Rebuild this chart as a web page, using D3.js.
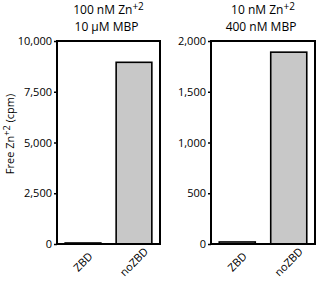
<!DOCTYPE html>
<html><head><meta charset="utf-8">
<script src="https://cdn.jsdelivr.net/npm/d3@7"></script>
<style>body{margin:0;background:#fff}svg{display:block}text{font-family:"Open Sans",sans-serif;fill:#000}</style>
</head><body>
<svg id="c" width="322" height="282"></svg>
<script>
const categories = ["ZBD", "noZBD"];
const leftValues = [50, 8950];
const rightValues = [20, 1890];
const leftTicks = [0, 2500, 5000, 7500, 10000];
const rightTicks = [0, 500, 1000, 1500, 2000];
const leftTitle = ["100 nM Zn", "+2", "10 μM MBP"];
const rightTitle = ["10 nM Zn", "+2", "400 nM MBP"];
const yLabel = ["Free Zn", "+2", " (cpm)"];

const svg = d3.select("#c");
const plotTop = 41, plotBottom = 244;
const fmt = d3.format(",");

function panel(x0, x1, values, ticks, title) {
  const x = d3.scaleBand().domain(categories).range([x0, x1]).paddingInner(0.3).paddingOuter(0.16);
  const y = d3.scaleLinear().domain([0, ticks[ticks.length-1]]).range([plotBottom, plotTop]);
  const g = svg.append("g");
  g.selectAll("rect.bar").data(values).join("rect")
    .attr("x", (d,i) => x(categories[i]))
    .attr("width", x.bandwidth())
    .attr("y", d => y(d))
    .attr("height", d => y(0) - y(d))
    .attr("fill", "#c8c8c8").attr("stroke", "#000").attr("stroke-width", 1.6);
  g.append("rect").attr("x", x0).attr("y", plotTop).attr("width", x1 - x0).attr("height", plotBottom - plotTop)
    .attr("fill", "none").attr("stroke", "#000").attr("stroke-width", 2);
  const ya = g.append("g").attr("transform", `translate(${x0},0)`)
    .call(d3.axisLeft(y).tickValues(ticks).tickFormat(fmt).tickSize(3).tickPadding(2));
  ya.select(".domain").remove();
  ya.selectAll("line").attr("stroke", "#000").attr("stroke-width", 1.5);
  ya.selectAll("text").attr("font-size", 11).style("font-family", '"Open Sans",sans-serif');
  g.selectAll("text.xl").data(categories).join("text").attr("class", "xl")
    .attr("transform", d => `translate(${x(d) + x.bandwidth()/2},${plotBottom + 18}) rotate(-45)`)
    .attr("text-anchor", "middle").attr("font-size", 11).attr("dy", "0.35em").text(d => d);
  const cx = (x0 + x1) / 2;
  const t1 = g.append("text").attr("x", cx).attr("y", 14).attr("text-anchor", "middle").attr("font-size", 12);
  t1.append("tspan").text(title[0]);
  t1.append("tspan").attr("font-size", 10).attr("dy", -4).text(title[1]);
  g.append("text").attr("x", cx - 2).attr("y", 31).attr("text-anchor", "middle").attr("font-size", 12).text(title[2]);
}

panel(57, 160, leftValues, leftTicks, leftTitle);
panel(211, 315, rightValues, rightTicks, rightTitle);

const yl = svg.append("text").attr("transform", "translate(14,134) rotate(-90)")
  .attr("text-anchor", "middle").attr("font-size", 11);
yl.append("tspan").text(yLabel[0]);
yl.append("tspan").attr("font-size", 9).attr("dy", -4).text(yLabel[1]);
yl.append("tspan").attr("dy", 4).text(yLabel[2]);
</script>
</body></html>
